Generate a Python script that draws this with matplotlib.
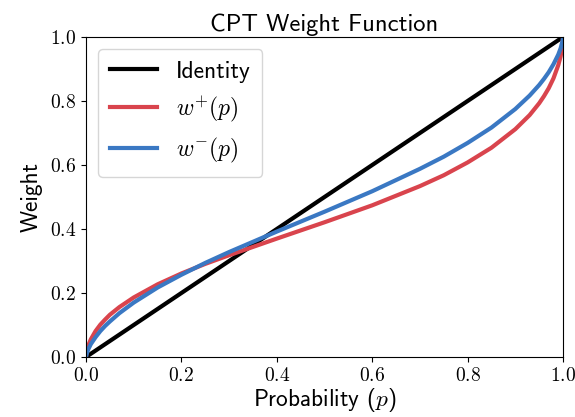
import matplotlib
matplotlib.use("Agg")
import matplotlib.pyplot as plt
import matplotlib.ticker as mticker

# probability grid and curve values
p_vals = [0.0, 0.001, 0.005, 0.01, 0.02, 0.03, 0.04, 0.05, 0.07, 0.1, 0.15, 0.2,
          0.25, 0.3, 0.4, 0.5, 0.6, 0.7, 0.75, 0.8, 0.85, 0.9, 0.93, 0.95, 0.96,
          0.97, 0.98, 0.99, 0.995, 0.999, 1.0]
w_plus = [0.0, 0.014, 0.037, 0.055, 0.081, 0.101, 0.117, 0.132, 0.156, 0.186,
          0.227, 0.261, 0.291, 0.318, 0.370, 0.421, 0.474, 0.534, 0.568, 0.608,
          0.654, 0.712, 0.756, 0.793, 0.815, 0.840, 0.871, 0.912, 0.940, 0.977,
          1.0]
w_minus = [0.0, 0.008, 0.025, 0.040, 0.062, 0.081, 0.097, 0.111, 0.137, 0.170,
           0.217, 0.257, 0.294, 0.328, 0.392, 0.454, 0.518, 0.588, 0.626, 0.669,
           0.717, 0.775, 0.817, 0.850, 0.869, 0.890, 0.915, 0.945, 0.965, 0.988,
           1.0]
identity = [0.0, 1.0]

plt.rcParams['mathtext.fontset'] = 'cm'
plt.rcParams['font.family'] = 'cmss10'
plt.rcParams['axes.unicode_minus'] = False

fig = plt.figure(figsize=(5.75, 4.17), dpi=100)
ax = fig.add_axes([0.1496, 0.1439, 0.8296, 0.7674])

ax.plot(identity, identity, color='black', lw=3, label='Identity')
ax.plot(p_vals, w_plus, color='#d9444d', lw=3, label=r'$w^{+}(p)$')
ax.plot(p_vals, w_minus, color='#3a78c3', lw=3, label=r'$w^{-}(p)$')

ax.set_xlim(0, 1)
ax.set_ylim(0, 1)
ticks = [0.0, 0.2, 0.4, 0.6, 0.8, 1.0]
ax.set_xticks(ticks)
ax.set_yticks(ticks)
fmt = mticker.FuncFormatter(lambda v, pos: r'$%.1f$' % v)
ax.xaxis.set_major_formatter(fmt)
ax.yaxis.set_major_formatter(fmt)
ax.tick_params(labelsize=14)

ax.set_title('CPT Weight Function', fontsize=17.7, pad=4)
ax.set_xlabel(r'Probability ($p$)', fontsize=16.8, labelpad=1)
ax.set_ylabel('Weight', fontsize=16.8, labelpad=5)

ax.legend(loc='upper left', fontsize=17, handlelength=2.0, borderpad=0.5)

fig.savefig('out.png', dpi=100)
